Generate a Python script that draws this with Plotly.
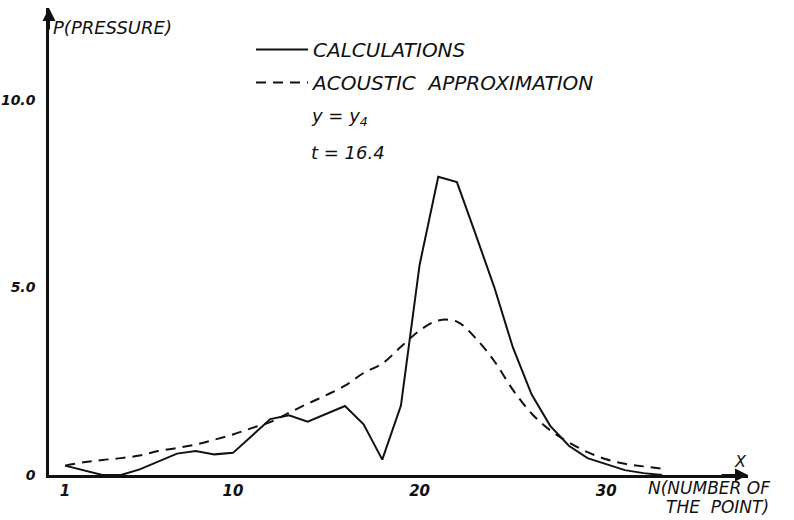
import plotly.graph_objects as go

# Calculated pressure at each point N along the line y = y4 (t = 16.4)
calc_n = [1, 3, 4, 5, 7, 8, 9, 10, 12, 13, 14, 16, 17, 18, 19, 20, 21, 22,
          23, 24, 25, 26, 27, 28, 29, 30, 31, 32, 33]
calc_p = [0.25, 0.0, 0.0, 0.15, 0.57, 0.64, 0.55, 0.59, 1.49, 1.59, 1.42, 1.84,
          1.35, 0.41, 1.85, 5.60, 7.95, 7.81, 6.42, 5.01, 3.40, 2.15, 1.31,
          0.78, 0.45, 0.28, 0.13, 0.05, 0.0]

# Acoustic approximation at the same points
acou_n = list(range(1, 34))
acou_p = [0.25, 0.34, 0.40, 0.45, 0.52, 0.64, 0.72, 0.81, 0.94, 1.08, 1.25,
          1.41, 1.66, 1.90, 2.13, 2.38, 2.72, 2.97, 3.42, 3.85, 4.12, 4.09,
          3.65, 3.04, 2.27, 1.64, 1.19, 0.87, 0.61, 0.42, 0.30, 0.23, 0.17]

x_ticks = [1, 10, 20, 30]
x_tick_text = ["1", "10", "20", "30"]
y_ticks = [0, 5, 10]
y_tick_text = ["0", "5.0", "10.0"]

X_RANGE = [0.14, 37.6]
Y_RANGE = [0, 12.45]

W, H = 794, 520
M = dict(l=49, r=46, t=8, b=45)
PW = W - M["l"] - M["r"]
PH = H - M["t"] - M["b"]

INK = "#111111"
FONT = dict(family="DejaVu Sans", color=INK, style="italic")


def px(x):
    return (x - M["l"]) / PW


def py(y):
    return (H - M["b"] - y) / PH


fig = go.Figure()
fig.add_trace(go.Scatter(
    x=calc_n, y=calc_p, mode="lines", name="CALCULATIONS",
    line=dict(color=INK, width=2), legendgroup="a"))
fig.add_trace(go.Scatter(
    x=acou_n, y=acou_p, mode="lines", name="ACOUSTIC  APPROXIMATION",
    line=dict(color=INK, width=2, dash="10px,7px", shape="spline"),
    legendgroup="b"))

notes = [
    ("P(PRESSURE)", 51, 28, 18, "left"),
    ("y = y<sub>4</sub>", 309, 117, 18, "left"),
    ("t = 16.4", 309, 152, 18, "left"),
    ("X", 740, 461, 16, "center"),
    ("N(NUMBER OF", 646, 488, 17, "left"),
    ("THE  POINT)", 664, 507, 17, "left"),
]
annotations = []
for text, x, y, size, anchor in notes:
    annotations.append(dict(
        text=text, x=px(x), y=py(y), xref="paper", yref="paper",
        xanchor=anchor, yanchor="middle", showarrow=False,
        font=dict(FONT, size=size)))

# arrowheads at the ends of both axes
annotations.append(dict(
    x=X_RANGE[0], y=Y_RANGE[1], xref="x", yref="y", ax=0, ay=30,
    axref="pixel", ayref="pixel", text=" ", showarrow=True,
    arrowhead=2, arrowsize=1.3, arrowwidth=2, arrowcolor=INK))
annotations.append(dict(
    x=X_RANGE[1], y=0, xref="x", yref="y", ax=-30, ay=0,
    axref="pixel", ayref="pixel", text=" ", showarrow=True,
    arrowhead=2, arrowsize=1.3, arrowwidth=2, arrowcolor=INK))

fig.update_layout(
    width=W, height=H, margin=M,
    paper_bgcolor="white", plot_bgcolor="white",
    font=FONT,
    showlegend=True,
    legend=dict(x=px(251), y=py(30), xanchor="left", yanchor="top",
                bgcolor="rgba(0,0,0,0)", font=dict(FONT, size=20),
                tracegroupgap=4, itemwidth=52),
    annotations=annotations,
    xaxis=dict(range=X_RANGE, tickvals=x_ticks, ticktext=x_tick_text,
               showgrid=False, zeroline=False, showline=True,
               linecolor=INK, linewidth=2.5, ticks="", automargin=False,
               tickfont=dict(FONT, size=15, weight="bold")),
    yaxis=dict(range=Y_RANGE, tickvals=y_ticks, ticktext=y_tick_text,
               showgrid=False, zeroline=False, showline=True,
               linecolor=INK, linewidth=2.5, ticks="", automargin=False,
               ticklabelstandoff=8,
               tickfont=dict(FONT, size=14, weight="bold")),
)

fig.write_html("out.html")
